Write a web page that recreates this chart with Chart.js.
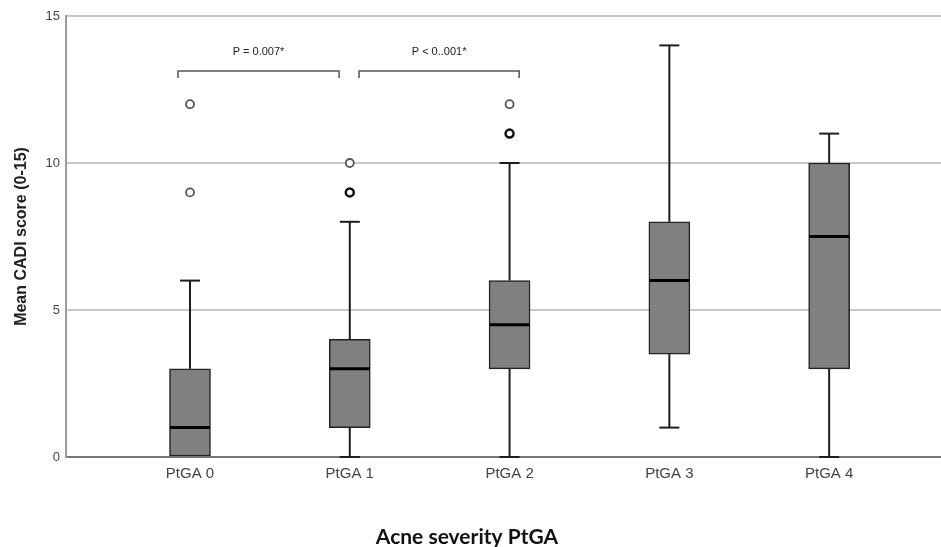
<!DOCTYPE html>
<html>
<head>
<meta charset="utf-8">
<script src="https://cdn.jsdelivr.net/npm/chart.js@4.4.0/dist/chart.umd.min.js"></script>
<style>
  html, body { margin: 0; padding: 0; background: #fff; overflow: hidden; }
  canvas { display: block; }
</style>
</head>
<body>
<canvas id="chart" width="941" height="547"></canvas>
<script>
// box plot values
const categories = ['PtGA 0', 'PtGA 1', 'PtGA 2', 'PtGA 3', 'PtGA 4'];
const whiskerLow = [0, 0, 0, 1, 0];
const q1 = [0, 1, 3, 3.5, 3];
const median = [1, 3, 4.5, 6, 7.5];
const q3 = [3, 4, 6, 8, 10];
const whiskerHigh = [6, 8, 10, 14, 11];
const outliers = [[9, 12], [9, 9, 10], [11, 11, 12], [], []];
const yTicks = [0, 5, 10, 15];

// significance brackets (x in category units, y in score units)
const comparisons = [
  { x0: -0.075, x1: 0.933, y: 13.13, label: 'P = 0.007*' },
  { x0: 1.058, x1: 2.06, y: 13.13, label: 'P < 0..001*' }
];

const boxData = categories.map((c, i) => ({ x: i, y: [q1[i], q3[i]] }));

// outliers, duplicates drawn with a heavier ring
const outlierData = [];
outliers.forEach((vals, i) => {
  const seen = {};
  vals.forEach(v => { seen[v] = (seen[v] || 0) + 1; });
  Object.keys(seen).forEach(v => {
    outlierData.push({ x: i, y: Number(v), n: seen[v] });
  });
});

const boxExtras = {
  id: 'boxExtras',
  afterDatasetsDraw(chart) {
    const { ctx, scales: { x, y } } = chart;
    ctx.save();
    ctx.strokeStyle = '#1e1e1e';
    categories.forEach((c, i) => {
      const cx = x.getPixelForValue(i);
      // whiskers
      ctx.lineWidth = 2;
      [[q3[i], whiskerHigh[i]], [q1[i], whiskerLow[i]]].forEach(([from, to]) => {
        if (from === to) return;
        ctx.beginPath();
        ctx.moveTo(cx, y.getPixelForValue(from));
        ctx.lineTo(cx, y.getPixelForValue(to));
        ctx.stroke();
        ctx.beginPath();
        ctx.moveTo(cx - 10, y.getPixelForValue(to));
        ctx.lineTo(cx + 10, y.getPixelForValue(to));
        ctx.stroke();
      });
      // median
      ctx.lineWidth = 3;
      ctx.strokeStyle = '#000';
      ctx.beginPath();
      ctx.moveTo(cx - 20, y.getPixelForValue(median[i]));
      ctx.lineTo(cx + 20, y.getPixelForValue(median[i]));
      ctx.stroke();
      ctx.strokeStyle = '#1e1e1e';
    });

    // brackets
    ctx.lineWidth = 1.5;
    ctx.strokeStyle = '#555';
    ctx.fillStyle = '#222';
    ctx.font = '11px "Liberation Sans", Arial, sans-serif';
    ctx.textAlign = 'center';
    ctx.textBaseline = 'middle';
    comparisons.forEach(cmp => {
      const xa = x.getPixelForValue(cmp.x0);
      const xb = x.getPixelForValue(cmp.x1);
      const yy = y.getPixelForValue(cmp.y);
      ctx.beginPath();
      ctx.moveTo(xa, yy + 7);
      ctx.lineTo(xa, yy);
      ctx.lineTo(xb, yy);
      ctx.lineTo(xb, yy + 7);
      ctx.stroke();
      ctx.fillText(cmp.label, (xa + xb) / 2, yy - 19);
    });

    // x axis title
    ctx.font = 'bold 21px Lato, "Open Sans", sans-serif';
    ctx.fillStyle = '#111';
    ctx.fillText('Acne severity PtGA', 467, 537);
    ctx.restore();
  }
};

const chart = new Chart(document.getElementById('chart'), {
  type: 'bar',
  data: {
    datasets: [
      {
        type: 'bar',
        data: boxData,
        backgroundColor: '#808080',
        borderColor: '#222',
        borderWidth: 1.5,
        borderSkipped: false,
        barThickness: 41
      },
      {
        type: 'scatter',
        data: outlierData,
        pointRadius: 4,
        pointBackgroundColor: '#fff',
        pointBorderColor: ctx => (ctx.raw && ctx.raw.n > 1 ? '#111' : '#555'),
        pointBorderWidth: ctx => (ctx.raw && ctx.raw.n > 1 ? 2.5 : 1.8)
      }
    ]
  },
  options: {
    responsive: false,
    animation: false,
    layout: { padding: { top: 16, right: 0, left: 0, bottom: 0 } },
    plugins: { legend: { display: false }, tooltip: { enabled: false } },
    scales: {
      x: {
        type: 'linear',
        offset: false,
        min: -0.776,
        max: 4.70,
        afterBuildTicks: s => { s.ticks = categories.map((c, i) => ({ value: i })); },
        afterFit: s => { s.height = 90; s.paddingLeft = 0; s.paddingRight = 0; },
        grid: { display: false, drawTicks: false },
        border: { color: '#777', width: 2 },
        ticks: {
          padding: 8,
          color: '#444',
          font: { family: '"Liberation Sans", Arial, sans-serif', size: 15 },
          callback: v => categories[v]
        }
      },
      y: {
        min: 0,
        max: 15,
        afterBuildTicks: s => { s.ticks = yTicks.map(v => ({ value: v })); },
        afterFit: s => { s.width = 66; },
        grid: { color: '#c8c8c8', lineWidth: 2, drawTicks: false },
        border: { color: '#999', width: 2 },
        ticks: {
          padding: 6,
          color: '#444',
          font: { family: '"Liberation Sans", Arial, sans-serif', size: 13 }
        },
        title: {
          display: true,
          text: 'Mean CADI score (0-15)',
          color: '#222',
          padding: { top: 12, bottom: 0 },
          font: { family: '"Liberation Sans", Arial, sans-serif', size: 16, weight: 'bold' }
        }
      }
    }
  },
  plugins: [boxExtras]
});

// the outlier points should not push the plot area in from the right edge
chart.getDatasetMeta(1).controller.getMaxOverflow = () => 0;
chart.update();
</script>
</body>
</html>
